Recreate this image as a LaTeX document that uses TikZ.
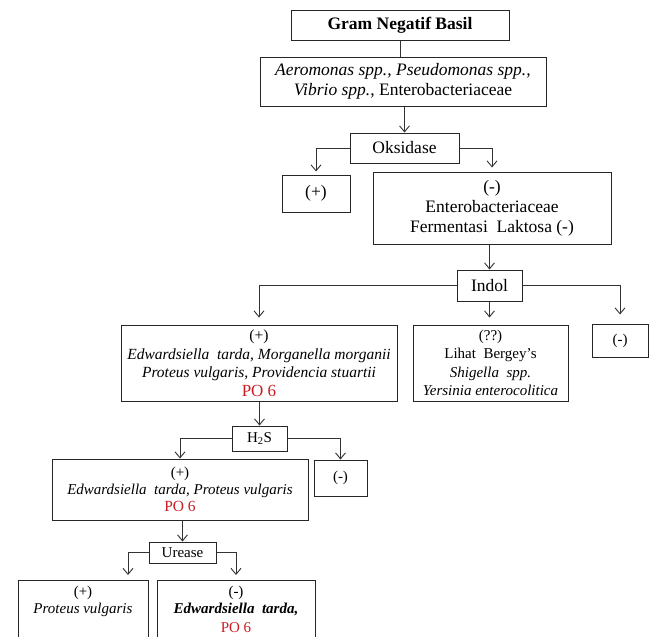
\documentclass[tikz,border=0pt]{standalone}
\usepackage{fontspec}
\setmainfont{Liberation Serif}
\usepackage{tikz}
\usetikzlibrary{arrows.meta,positioning,calc}
\definecolor{rougePO}{RGB}{200,30,35}
\newcommand{\POsix}{\textcolor{rougePO}{PO 6}}

\begin{document}
\begin{tikzpicture} [x=1pt, y=-1pt]
%boites et fleches : definition des styles
\tikzset{boite/.style={draw=black!85, line width=1pt, align=center, inner sep=0pt, font=\fontsize{17.5}{20}\selectfont}}
\tikzset{moyenne/.style={boite, font=\fontsize{15.5}{18.5}\selectfont}}
\tikzset{petite/.style={boite, font=\fontsize{15}{17}\selectfont}}
\tikzset{fleche/.style={draw=black!80, line width=0.9pt, -{Straight Barb[length=6pt,width=10pt]}}}
\tikzset{trait/.style={draw=black!80, line width=0.9pt}}
\useasboundingbox (0,0) rectangle (649,637);

% niveau 1 : gram et oksidase
\node[boite, minimum width=218pt, minimum height=30pt] (gram) at (400,25) {\textbf{Gram Negatif Basil}};
\node[boite, minimum width=286pt, minimum height=49pt] (aero) at (403,81.5) {\textit{Aeromonas spp., Pseudomonas spp.,}\\ \textit{Vibrio spp.}, Enterobacteriaceae};
\node[boite, minimum width=109pt, minimum height=30pt] (oks) at (404.5,148) {Oksidase};
\node[boite, minimum width=68pt, minimum height=37pt] (okpos) at (316,193.5) {(+)};
\node[boite, minimum width=238pt, minimum height=72pt] (okneg) at (492,208) {(-)\\ Enterobacteriaceae\\ Fermentasi\ \ Laktosa (-)};

\draw[trait] (gram.south) -- (gram.south |- aero.north);
\draw[fleche] (oks.north |- aero.south) -- (oks.north);
\draw[fleche, shorten >=3pt] (oks.west) -| (okpos.north);
\draw[fleche, shorten >=4pt] (oks.east) -| (okneg.north);

% niveau 2 : indol
\node[boite, minimum width=65pt, minimum height=31pt] (indol) at (489.5,285.5) {Indol};
\node[moyenne, minimum width=276pt, minimum height=76pt] (indpos) at (259,363) {(+)\\ \textit{Edwardsiella\ \ tarda, Morganella morganii}\\ \textit{Proteus vulgaris, Providencia stuartii}\\ {\fontsize{17}{19}\selectfont\POsix}};
\node[petite, minimum width=155pt, minimum height=76pt, font=\fontsize{15}{18.3}\selectfont] (indunk) at (490.5,363) {(??)\\ Lihat\ \ Bergey's\\ \textit{Shigella\ \ spp.}\\ \textit{Yersinia enterocolitica}};
\node[petite, minimum width=56pt, minimum height=33pt] (indneg) at (620,340.5) {(-)};

\draw[fleche] (indol.north |- okneg.south) -- (indol.north);
\draw[fleche, shorten >=7pt] (indol.west) -| (indpos.north);
\draw[fleche, shorten >=7pt] (indol.south) -- (indol.south |- indunk.north);
\draw[fleche, shorten >=9pt] (indol.east) -| (indneg.north);

% niveau 3 : H2S
\node[petite, minimum width=55pt, minimum height=25pt] (hs) at (259.5,438.5) {H\textsubscript{2}S};
\node[petite, minimum width=256pt, minimum height=61pt] (hspos) at (180,489.5) {(+)\\ \textit{Edwardsiella\ \ tarda, Proteus vulgaris}\\ {\fontsize{15.5}{17}\selectfont\POsix}};
\node[petite, minimum width=53pt, minimum height=36pt] (hsneg) at (340.5,478) {(-)};

\draw[fleche] (hs.north |- indpos.south) -- (hs.north);
\draw[fleche] (hs.west) -| (hspos.north);
\draw[fleche] (hs.east) -| (hsneg.north);

% niveau 4 : urease
\node[petite, minimum width=67pt, minimum height=21pt] (ure) at (182.5,552.5) {Urease};
\node[petite, anchor=north, minimum width=130pt, inner ysep=6pt, font=\fontsize{15}{16.5}\selectfont] (urpos) at (83,580) {(+)\\ \textit{Proteus vulgaris}\\ \strut\\ \strut};
\node[petite, anchor=north, minimum width=158pt, inner ysep=6pt, font=\fontsize{15}{16.5}\selectfont] (urneg) at (236,580) {(-)\\ \textbf{\textit{Edwardsiella\ \ tarda,}}\\[3pt] \POsix\\ \strut};

\draw[fleche] (ure.north |- hspos.south) -- (ure.north);
\draw[fleche, shorten >=5pt] (ure.west) -| ([xshift=45pt]urpos.north);
\draw[fleche, shorten >=5pt] (ure.east) -| (urneg.north);
\end{tikzpicture}
\end{document}
